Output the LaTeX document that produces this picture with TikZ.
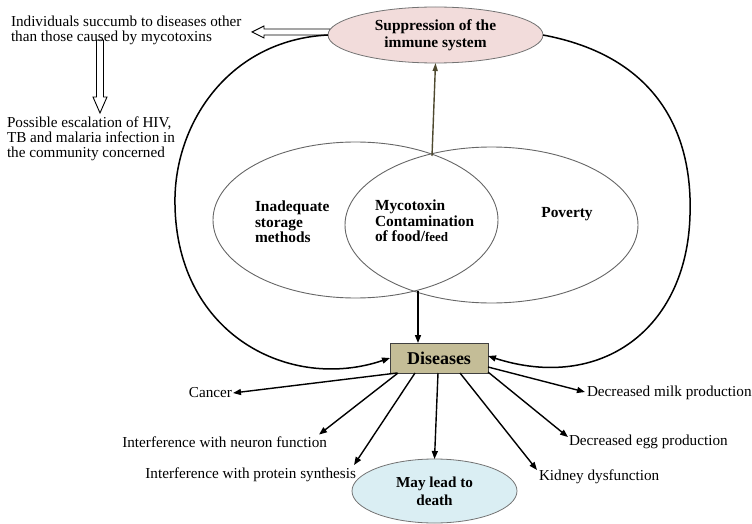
\documentclass[tikz,border=0pt]{standalone}
\usepackage{fontspec}
\setmainfont{Liberation Serif}
\usetikzlibrary{shapes.geometric,arrows.meta}
\definecolor{pinkfill}{HTML}{F2DCDB}
\definecolor{tanfill}{HTML}{C4BD97}
\definecolor{bluefill}{HTML}{DAEEF3}
\definecolor{olivec}{HTML}{4F4A30}
\tikzset{
  every node/.style={inner sep=0pt, outer sep=0pt},
  plaintxt/.style={font=\fontsize{15.2}{14.8}\selectfont, align=left},
  boldtxt/.style={font=\bfseries\fontsize{15.4}{15.5}\selectfont, align=left},
  vennshape/.style={ellipse, draw=black!60, line width=0.9pt},
  looparrow/.style={line width=1.5pt, -{Triangle[length=8pt,width=6pt]}},
  effectarrow/.style={line width=1.4pt, -{Triangle[length=8pt,width=6pt]}},
  blockarrow/.style={draw=black, line width=0.9pt, fill=white},
}
\begin{document}
\begin{tikzpicture}[x=1pt,y=-1pt]
\useasboundingbox (0,0) rectangle (752,524);

% block arrows
\draw[blockarrow] (330,29)--(264,29)--(264,26)--(252,32)--(264,38)--(264,35)--(330,35)--cycle;
\draw[blockarrow] (96.5,40)--(96.5,97)--(93,97)--(100,113)--(107,97)--(103.5,97)--(103.5,40)--cycle;

% top texts
\node[plaintxt, anchor=west] (succumb) at (11,30) {Individuals succumb to diseases other\\than those caused by mycotoxins};
\node[plaintxt, anchor=west] (escal) at (7,139) {Possible escalation of HIV,\\TB and malaria infection in\\the community concerned};

% suppression ellipse
\node[ellipse, draw=black!55, line width=0.8pt, fill=pinkfill, minimum width=215pt, minimum height=56pt,
      font=\bfseries\fontsize{15.4}{17}\selectfont, align=center] (supp) at (435.5,35) {Suppression of the\\immune system};

% venn
\node[vennshape, minimum width=285pt, minimum height=156pt] (vl) at (355.5,220) {};
\node[vennshape, minimum width=293pt, minimum height=156pt] (vr) at (491.5,225) {};
\node[boldtxt, anchor=west] (inad) at (255,222) {Inadequate\\storage\\methods};
\node[boldtxt, anchor=west] (myco) at (375,221) {Mycotoxin\\Contamination\\of food/{\fontsize{13}{15.5}\selectfont feed}};
\node[boldtxt] (pov) at (567,214) {Poverty};
\coordinate (vtop) at (432,156);
\coordinate (vbot) at (418,291);

% diseases
\node[draw=black!75, line width=0.9pt, fill=tanfill, minimum width=98pt, minimum height=30pt,
      font=\bfseries\fontsize{18}{18}\selectfont] (dis) at (439,358) {Diseases};

% death
\node[ellipse, draw=black!55, line width=0.8pt, fill=bluefill, minimum width=165pt, minimum height=64pt,
      font=\bfseries\fontsize{15.2}{18}\selectfont, align=center] (death) at (434.5,491) {May lead to\\death};

% effect texts
\node[plaintxt, anchor=east] (cancer) at (232,393) {Cancer};
\node[plaintxt, anchor=east] (neuron) at (327,442) {Interference with neuron function};
\node[plaintxt, anchor=east] (protein) at (356,475) {Interference with protein synthesis};
\node[plaintxt, anchor=west] (kidney) at (539,477) {Kidney dysfunction};
\node[plaintxt, anchor=west] (egg) at (569,442) {Decreased egg production};
\node[plaintxt, anchor=west] (milk) at (587,393) {Decreased milk production};

% vertical connectors
\draw[olivec, line width=1.4pt, -{Triangle[length=8pt,width=5pt]}] (vtop) -- (supp.south);
\draw[line width=1.5pt, -{Triangle[length=8pt,width=6pt]}] (vbot) -- ([xshift=-21pt]dis.north);

% big loops
\draw[looparrow] (supp.west) .. controls (228,40) and (173,125) .. (175,205)
                 .. controls (177,335) and (290,392) .. (dis.west);
\draw[looparrow] (supp.east) .. controls (650,55) and (693,125) .. (690,215)
                 .. controls (687,330) and (600,392) .. ([yshift=2pt]dis.east);

% effects
\draw[effectarrow] ([xshift=7pt]dis.south west) -- ([xshift=1pt]cancer.east);
\draw[effectarrow] ([xshift=8pt]dis.south west) -- ([xshift=-8pt,yshift=2pt]neuron.north east);
\draw[effectarrow] ([xshift=25pt]dis.south west) -- ([xshift=-2pt,yshift=3pt]protein.north east);
\draw[effectarrow] ([xshift=-1pt]dis.south) -- (death.north);
\draw[effectarrow] ([xshift=-28pt]dis.south east) -- ([xshift=-2pt,yshift=0pt]kidney.north west);
\draw[effectarrow] ([yshift=1pt]dis.south east) -- ([xshift=-1pt,yshift=-2pt]egg.north west);
\draw[effectarrow] ([yshift=6pt]dis.south east) -- ([xshift=-2pt,yshift=1pt]milk.west);
\end{tikzpicture}
\end{document}
